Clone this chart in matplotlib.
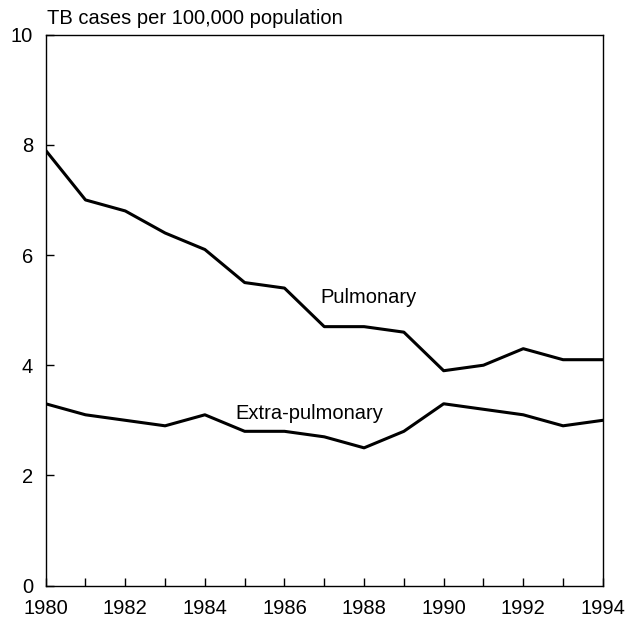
import matplotlib
matplotlib.use("Agg")
import matplotlib.pyplot as plt

years = list(range(1980, 1995))
pulmonary = [7.9, 7.0, 6.8, 6.4, 6.1, 5.5, 5.4, 4.7, 4.7, 4.6, 3.9, 4.0, 4.3, 4.1, 4.1]
extra_pulmonary = [3.3, 3.1, 3.0, 2.9, 3.1, 2.8, 2.8, 2.7, 2.5, 2.8, 3.3, 3.2, 3.1, 2.9, 3.0]

plt.rcParams['font.family'] = ['Liberation Sans', 'DejaVu Sans']

fig = plt.figure(figsize=(6.26, 6.19), dpi=100)
ax = fig.add_axes([0.073, 0.054, 0.890, 0.890])

ax.plot(years, pulmonary, color='black', lw=2.2)
ax.plot(years, extra_pulmonary, color='black', lw=2.2)

ax.set_xlim(1980, 1994)
ax.set_ylim(0, 10)
ax.set_xticks(range(1980, 1995, 2))
ax.set_xticks(range(1981, 1994, 2), minor=True)
ax.set_yticks(range(0, 11, 2))
ax.tick_params(axis='y', direction='in', length=5.5, width=1, labelsize=14.5, pad=9)
ax.tick_params(axis='x', direction='in', length=5.5, width=1, labelsize=14.5, pad=10)
ax.tick_params(which='minor', direction='in', length=5.5, width=1)
for s in ax.spines.values():
    s.set_linewidth(1)

ax.text(1986.9, 5.22, 'Pulmonary', fontsize=14.5, ha='left', va='center')
ax.text(1984.77, 3.13, 'Extra-pulmonary', fontsize=14.5, ha='left', va='center')
ax.text(0.002, 1.012, 'TB cases per 100,000 population', transform=ax.transAxes,
        fontsize=14.5, ha='left', va='bottom')

plt.savefig('out.png', dpi=100)
